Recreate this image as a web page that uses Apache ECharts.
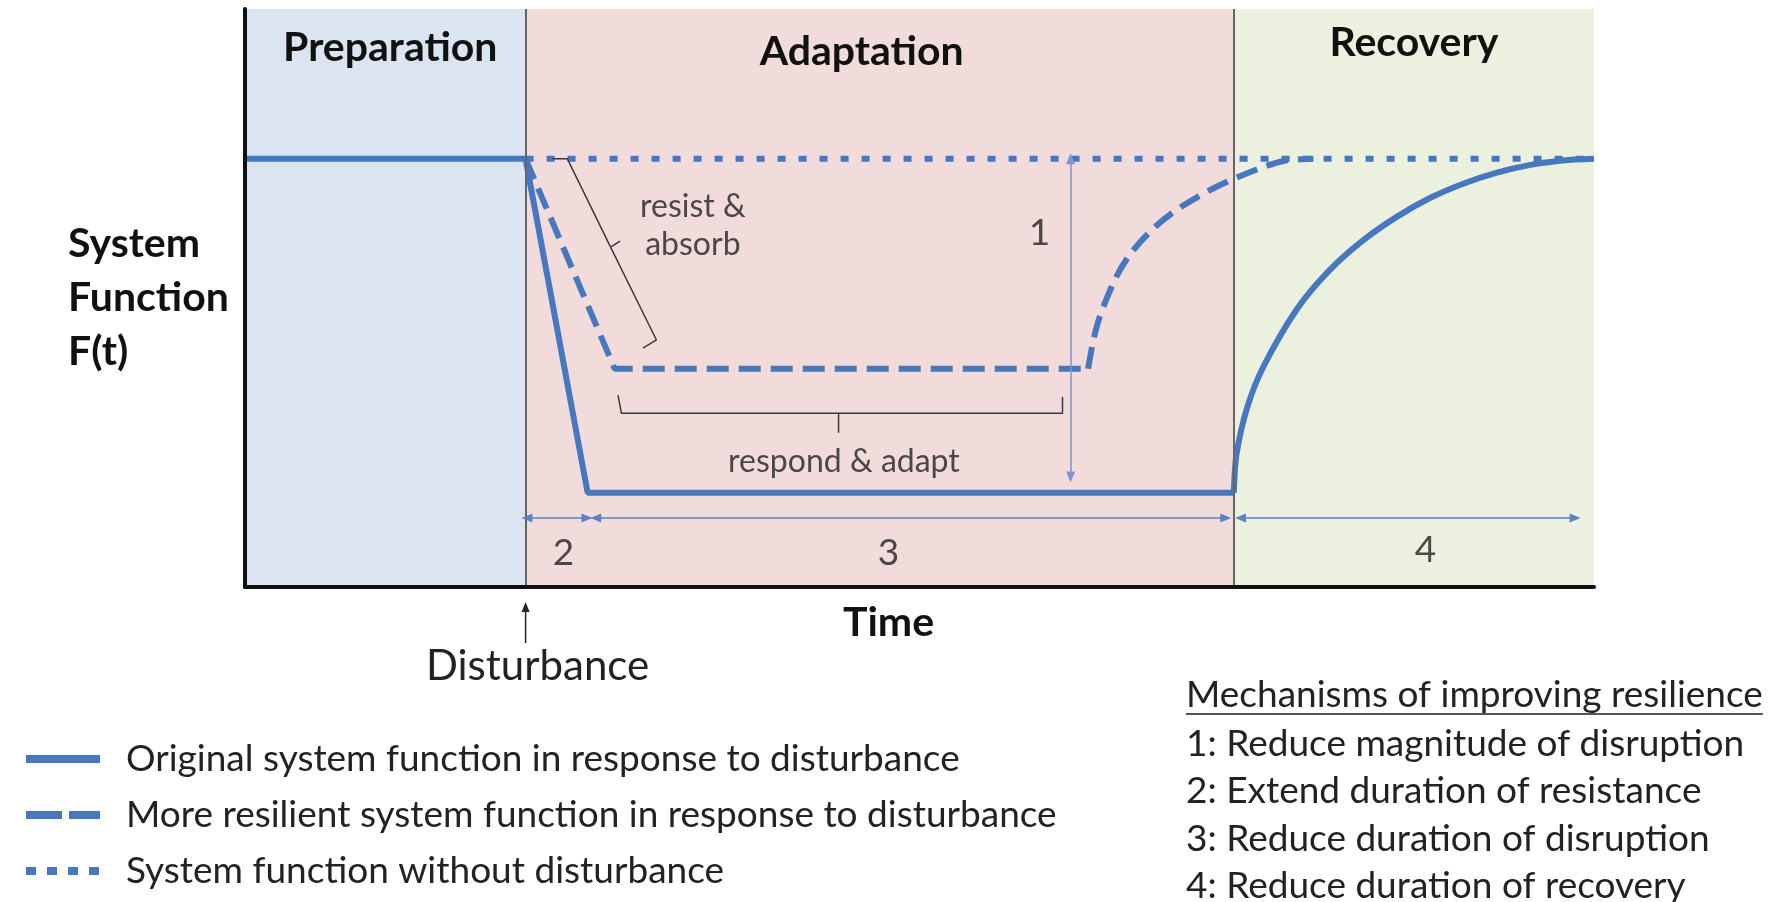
<!DOCTYPE html>
<html>
<head>
<meta charset="utf-8">
<script src="https://cdn.jsdelivr.net/npm/echarts@6/dist/echarts.min.js"></script>
<style>html,body{margin:0;padding:0;background:#fff}#chart{width:1775px;height:902px}</style>
</head>
<body>
<div id="chart"></div>
<script>
// phases along the time axis (0-100)
const phaseNames = ['Preparation', 'Adaptation', 'Recovery'];
const phaseBounds = [0, 20.8, 73.3, 100];

// system function F(t) (1 = normal function)
const originalDrop = [[0, 1], [20.8, 1], [25.4, 0.22], [73.3, 0.22]];
const originalRecovery = [[73.3, 0.22], [73.5, 0.31], [74.3, 0.42], [75.5, 0.515], [78, 0.65], [80.4, 0.74], [82.9, 0.81],
  [85.4, 0.865], [87.8, 0.908], [90.3, 0.942], [92.8, 0.968], [95.3, 0.986], [97.7, 0.996], [100, 1]];
const resilientDrop = [[20.8, 1], [27.4, 0.51], [62.5, 0.51]];
const resilientRecovery = [[62.5, 0.51], [62.9, 0.578], [63.4, 0.635], [64.6, 0.725], [65.8, 0.785], [67.6, 0.845],
  [69.5, 0.89], [72.1, 0.936], [75, 0.975], [77, 0.995], [79.2, 1]];
const undisturbed = [[20.8, 1], [100, 1]];

const seriesNames = [
  'Original system function in response to disturbance',
  'More resilient system function in response to disturbance',
  'System function without disturbance'
];

// annotations
const resistBrace = [[22.8, 1], [23.9, 1], [27.1, 0.794], [27.8, 0.808], [27.1, 0.794], [30.5, 0.577], [29.5, 0.558]];
const respondBrace = [[27.65, 0.448], [27.9, 0.406], [44.0, 0.406], [44.0, 0.36], [44.0, 0.406], [60.6, 0.406], [60.6, 0.444]];
const magnitudeArrow = [[61.2, 1.0], [61.2, 0.257]];
const spanArrows = [
  [[20.9, 0.161], [25.35, 0.161]],
  [[26.0, 0.161], [72.7, 0.161]],
  [[73.8, 0.161], [98.6, 0.161]]
];
const noteLabels = ['1', '2', '3', '4', 'resist &\nabsorb', 'respond & adapt'];
const notePos = [[58.9, 0.827], [23.6, 0.079], [47.7, 0.079], [87.5, 0.086], [33.2, 0.843], [44.4, 0.292]];

const mechTitle = 'Mechanisms of improving resilience';
const mechItems = [
  '1: Reduce magnitude of disruption',
  '2: Extend duration of resistance',
  '3: Reduce duration of disruption',
  '4: Reduce duration of recovery'
];

const blue = '#4677bf';
const font = 'Lato, "Open Sans", sans-serif';
const textDark = '#111';
const textBody = '#222';
const phaseColors = ['#dbe5f1', '#f2dcdb', '#ebf1de'];
const headerOffsets = [[5, 0], [-18, 4], [0, -5]];

const chart = echarts.init(document.getElementById('chart'));

const lineBase = { type: 'line', symbol: 'none', color: blue, silent: true };

chart.setOption({
  animation: false,
  backgroundColor: '#fff',
  textStyle: { fontFamily: font },
  grid: { left: 245, top: 9, width: 1349, height: 578, outerBoundsMode: 'none' },
  xAxis: {
    type: 'value', min: 0, max: 100, z: 10,
    axisLine: { lineStyle: { color: '#111', width: 4 } },
    axisTick: { show: false }, axisLabel: { show: false }, splitLine: { show: false },
    name: 'Time', nameLocation: 'middle', nameGap: 15,
    nameTextStyle: { fontSize: 41, fontWeight: 'bold', color: textDark, padding: [0, 62, 0, 0] }
  },
  yAxis: {
    type: 'value', min: 0, max: 1.35, z: 10,
    axisLine: { show: true, lineStyle: { color: '#111', width: 4 } },
    axisTick: { show: false }, axisLabel: { show: false }, splitLine: { show: false },
    name: 'System\nFunction\nF(t)', nameLocation: 'middle', nameRotate: 0, nameGap: 177,
    nameTextStyle: { fontSize: 41, fontWeight: 'bold', color: textDark, align: 'left', lineHeight: 54 }
  },
  legend: {
    orient: 'vertical', left: 17, top: 734,
    itemWidth: 74, itemHeight: 20, itemGap: 16, selectedMode: false,
    itemStyle: { opacity: 0, color: 'rgba(0,0,0,0)', borderWidth: 0 },
    lineStyle: { width: 8 },
    textStyle: { fontSize: 37, color: textBody, lineHeight: 40, padding: [0, 0, 0, 21] },
    data: [
      { name: seriesNames[0] },
      { name: seriesNames[1], lineStyle: { type: [36, 7] } },
      { name: seriesNames[2], lineStyle: { type: [10, 11] } }
    ]
  },
  series: [
    {
      // phase backgrounds and boundaries
      name: 'phases', type: 'line', data: [], silent: true,
      markArea: {
        silent: true,
        label: { show: true, position: 'insideTop', distance: 18, fontSize: 41, fontWeight: 'bold', color: textDark },
        data: phaseNames.map((n, i) => [
          { name: n, xAxis: phaseBounds[i], itemStyle: { color: phaseColors[i] }, label: { offset: headerOffsets[i] } },
          { xAxis: phaseBounds[i + 1] }
        ])
      },
      markLine: {
        silent: true, symbol: 'none', label: { show: false },
        lineStyle: { color: '#666', width: 2, type: 'solid' },
        data: [{ xAxis: phaseBounds[1] }, { xAxis: phaseBounds[2] }]
      }
    },
    Object.assign({}, lineBase, { name: seriesNames[0], data: originalDrop, z: 4, lineStyle: { color: blue, width: 6 } }),
    Object.assign({}, lineBase, { name: seriesNames[0], data: originalRecovery, z: 4, smooth: 0.3, lineStyle: { color: blue, width: 6 } }),
    Object.assign({}, lineBase, { name: seriesNames[1], data: resilientDrop, z: 3, lineStyle: { color: blue, width: 6, type: [22, 10] } }),
    Object.assign({}, lineBase, { name: seriesNames[1], data: resilientRecovery, z: 3, smooth: 0.3, lineStyle: { color: blue, width: 6, type: [22, 10] } }),
    Object.assign({}, lineBase, { name: seriesNames[2], data: undisturbed, z: 3, lineStyle: { color: blue, width: 6, type: [8, 13] } }),
    {
      name: 'resistBrace', type: 'line', data: resistBrace, symbol: 'none', silent: true, z: 5,
      lineStyle: { color: '#3a3a3a', width: 1.5 }
    },
    {
      name: 'respondBrace', type: 'line', data: respondBrace, symbol: 'none', silent: true, z: 5,
      lineStyle: { color: '#3a3a3a', width: 1.5 },
      markLine: {
        silent: true, symbol: ['triangle', 'triangle'], symbolSize: [9, 11], label: { show: false },
        lineStyle: { color: '#5b82c5', width: 1.5, type: 'solid' },
        data: [
          [{ coord: magnitudeArrow[0], lineStyle: { color: '#8193d1' } }, { coord: magnitudeArrow[1] }]
        ].concat(spanArrows.map(a => [{ coord: a[0] }, { coord: a[1] }]))
      }
    },
    {
      name: 'notes', type: 'scatter', symbolSize: 0, silent: true, z: 6,
      label: { show: true, position: 'inside', formatter: '{b}', color: textBody, fontSize: 37 },
      data: noteLabels.map((t, i) => ({
        name: t, value: notePos[i],
        label: i >= 4 ? { fontSize: 32, lineHeight: 38 } : {}
      }))
    }
  ]
});

// disturbance marker and mechanisms list, placed from the axis scale
const [dx, dy] = chart.convertToPixel({ gridIndex: 0 }, [phaseBounds[1], 0]);
const ctx = document.createElement('canvas').getContext('2d');
ctx.font = '37px Lato';
const titleW = ctx.measureText(mechTitle).width;

chart.setOption({
  graphic: [
    { type: 'line', shape: { x1: dx, y1: dy + 56, x2: dx, y2: dy + 22 }, style: { stroke: '#222', lineWidth: 1.5 } },
    { type: 'polygon', shape: { points: [[dx, dy + 15], [dx - 4, dy + 25], [dx + 4, dy + 25]] }, style: { fill: '#222' } },
    { type: 'text', x: dx + 12, y: dy + 79, style: { text: 'Disturbance', font: '42px ' + font, fill: textBody, align: 'center', verticalAlign: 'middle' } },
    { type: 'text', x: 1186, y: 695, style: { text: mechTitle, font: '37px ' + font, fill: textBody, verticalAlign: 'middle' } },
    { type: 'line', shape: { x1: 1186, y1: 714, x2: 1186 + titleW, y2: 714 }, style: { stroke: '#555', lineWidth: 2 } },
    { type: 'text', x: 1186, y: 720, style: { text: mechItems.join('\n'), font: '37px ' + font, fill: textBody, lineHeight: 47.5 } }
  ]
});
</script>
</body>
</html>
